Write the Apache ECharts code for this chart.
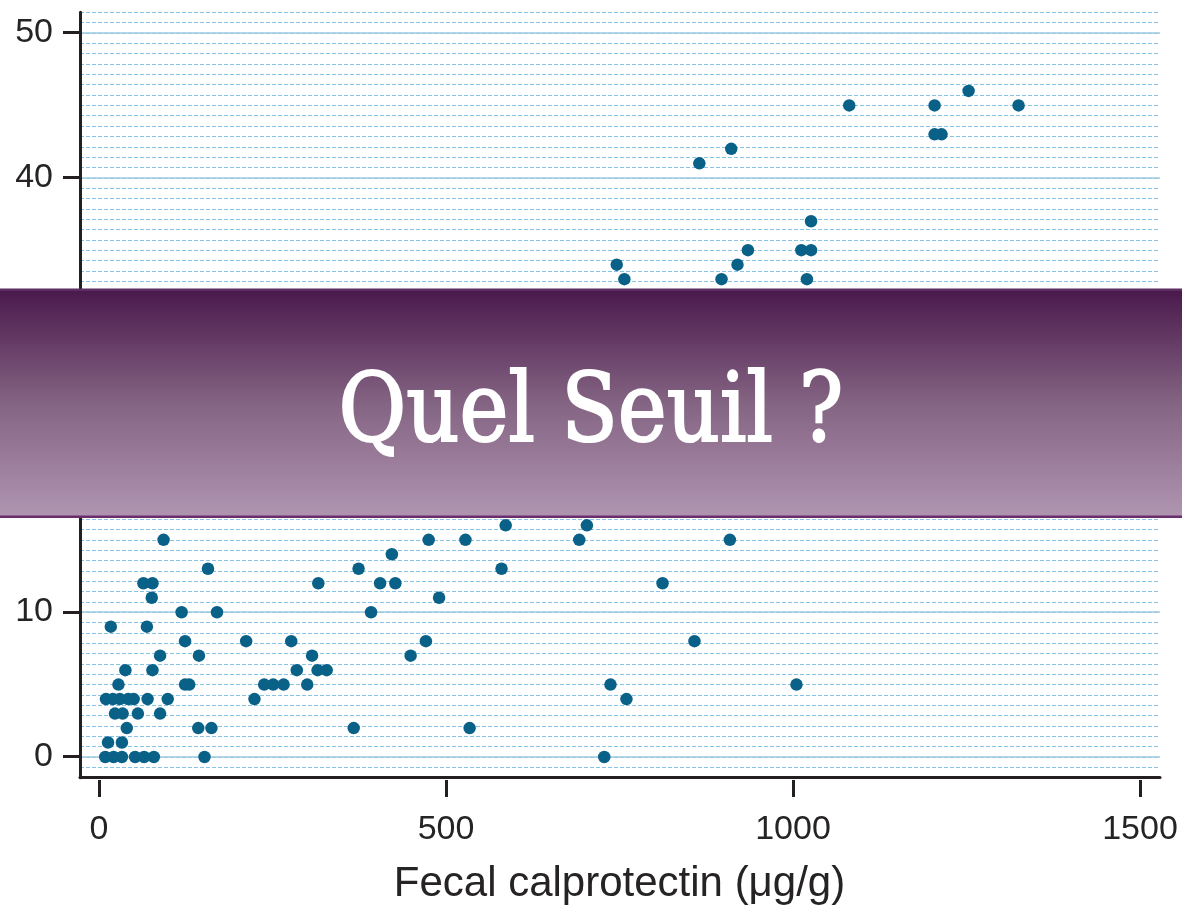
<!DOCTYPE html>
<html>
<head>
<meta charset="utf-8">
<title>Quel Seuil ?</title>
<script src="https://cdn.jsdelivr.net/npm/echarts@6/dist/echarts.min.js"></script>
<style>
  html, body { margin: 0; padding: 0; background: #fff; }
  #main { width: 1182px; height: 915px; }
</style>
</head>
<body>
<div id="main"></div>
<script>
// valeurs (points masqués par le bandeau non repris)
var calprotectin = [
    1081, 1204, 1253, 1325, 1204, 1214, 911, 865, 1026, 935, 1012, 1026, 920, 746, 897, 757, 1020,
    586, 703,
    93, 475, 528, 692, 909,
    422,
    157, 374, 580,
    64, 77, 316, 405, 427, 812,
    76, 490,
    119, 170, 392,
    17, 69,
    124, 212, 277, 471, 858,
    88, 144, 307, 449,
    38, 77, 285, 315, 328,
    28, 124, 130, 238, 251, 266, 300, 737, 1005,
    10, 20, 30, 42, 50, 70, 99, 224, 760,
    23, 34, 56, 88,
    40, 143, 162, 367, 534,
    13, 33,
    9, 21, 33, 52, 65, 79, 152, 728
];
var score = [
    45, 45, 46, 45, 43, 43, 42, 41, 37, 35, 35, 35, 34, 34, 33, 33, 33,
    16, 16,
    15, 15, 15, 15, 15,
    14,
    13, 13, 13,
    12, 12, 12, 12, 12, 12,
    11, 11,
    10, 10, 10,
    9, 9,
    8, 8, 8, 8, 8,
    7, 7, 7, 7,
    6, 6, 6, 6, 6,
    5, 5, 5, 5, 5, 5, 5, 5, 5,
    4, 4, 4, 4, 4, 4, 4, 4, 4,
    3, 3, 3, 3,
    2, 2, 2, 2, 2,
    1, 1,
    0, 0, 0, 0, 0, 0, 0, 0
];
var xTicks = [0, 500, 1000, 1500];
var yTicks = [0, 10, 20, 30, 40, 50];
var xTitle = 'Fecal calprotectin (μg/g)';
var bannerText = 'Quel Seuil ?';

var points = calprotectin.map(function (x, i) { return [x, score[i]]; });

var myChart = echarts.init(document.getElementById('main'));

var ink = '#231f20';
var minorStep = 10 / 14; // pointillés de fond
var yMajor = yTicks[1] - yTicks[0];
var xMajor = xTicks[1] - xTicks[0];

var labelStyle = {
    fontFamily: '"Liberation Sans", Arial, sans-serif',
    fontSize: 34,
    color: '#262324'
};

var option = {
    animation: false,
    backgroundColor: '#ffffff',
    grid: [
        // zone de tracé (cadre + pointillés)
        { left: 80, top: 12.3, width: 1080, height: 765.4, outerBoundsMode: 'none' },
        // graduations Y
        { left: 80, top: 32.7, width: 1080, height: 724, outerBoundsMode: 'none' },
        // graduations X
        { left: 99, top: 32.7, width: 1041, height: 724, outerBoundsMode: 'none' }
    ],
    xAxis: [
        {
            gridIndex: 0,
            type: 'value',
            min: -27.4,
            max: 1528.8,
            axisLine: { show: true, onZero: false, lineStyle: { color: ink, width: 3 } },
            axisTick: { show: false },
            axisLabel: { show: false },
            splitLine: { show: false }
        },
        { gridIndex: 1, type: 'value', show: false, min: 0, max: 1 },
        {
            gridIndex: 2,
            type: 'value',
            position: 'bottom',
            min: xTicks[0],
            max: xTicks[xTicks.length - 1],
            interval: xMajor,
            offset: 23.3,
            axisLine: { show: false, onZero: false },
            axisTick: { show: true, length: 17, lineStyle: { color: ink, width: 3 } },
            axisLabel: Object.assign({
                margin: 33,
                formatter: function (v) { return String(v); }
            }, labelStyle),
            splitLine: { show: false },
            name: xTitle,
            nameLocation: 'middle',
            nameGap: 83,
            nameTextStyle: {
                fontFamily: '"Liberation Sans", Arial, sans-serif',
                fontSize: 42,
                color: '#262324'
            }
        }
    ],
    yAxis: [
        {
            gridIndex: 0,
            type: 'value',
            min: yTicks[0] - 2 * minorStep,
            max: yTicks[yTicks.length - 1] + 2 * minorStep,
            interval: minorStep,
            axisLine: { show: true, onZero: false, lineStyle: { color: ink, width: 3 } },
            axisTick: { show: false },
            axisLabel: { show: false },
            splitLine: { show: true, lineStyle: { color: '#86c3e6', width: 1, type: [4, 2] } }
        },
        {
            gridIndex: 1,
            type: 'value',
            min: yTicks[0],
            max: yTicks[yTicks.length - 1],
            interval: yMajor,
            axisLine: { show: false, onZero: false },
            axisTick: { show: true, length: 17, lineStyle: { color: ink, width: 3 } },
            axisLabel: Object.assign({ margin: 27 }, labelStyle),
            splitLine: { show: true, lineStyle: { color: '#9ccbe2', width: 1.5 } }
        },
        { gridIndex: 2, type: 'value', show: false, min: 0, max: 1 }
    ],
    series: [{
        type: 'scatter',
        xAxisIndex: 0,
        yAxisIndex: 0,
        data: points,
        symbol: 'circle',
        symbolSize: 12.5,
        itemStyle: { color: '#0a6188', opacity: 1 },
        z: 5
    }],
    graphic: [
        {
            type: 'rect',
            z: 100,
            shape: { x: 0, y: 290, width: 1182, height: 227 },
            style: {
                fill: new echarts.graphic.LinearGradient(0, 0, 0, 1, [
                    { offset: 0, color: '#4a194c' },
                    { offset: 0.5, color: '#846483' },
                    { offset: 1, color: '#b095b1' }
                ])
            }
        },
        { type: 'rect', z: 101, shape: { x: 0, y: 288.5, width: 1182, height: 2.5 }, style: { fill: '#5e2d62' } },
        { type: 'rect', z: 101, shape: { x: 0, y: 515.5, width: 1182, height: 2.5 }, style: { fill: '#6a2e6d' } },
        {
            type: 'text',
            z: 102,
            x: 591,
            y: 416,
            scaleX: 0.87,
            style: {
                text: bannerText,
                fill: '#ffffff',
                stroke: '#ffffff',
                lineWidth: 2.2,
                font: 'normal 95px "DejaVu Serif", serif',
                align: 'center',
                verticalAlign: 'middle',
                textAlign: 'center',
                textVerticalAlign: 'middle'
            }
        }
    ]
};

myChart.setOption(option);
</script>
</body>
</html>
